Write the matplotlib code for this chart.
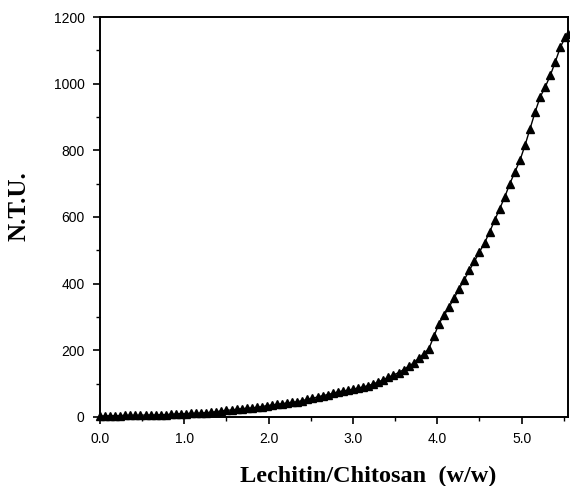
import matplotlib

matplotlib.use("Agg")
import matplotlib.pyplot as plt
from matplotlib.ticker import MultipleLocator

# Lechitin/Chitosan ratio (w/w) and turbidity (N.T.U.)
RATIO = [
    0.00, 0.06, 0.12, 0.18, 0.24, 0.30, 0.36, 0.42, 0.48, 0.54,
    0.60, 0.66, 0.72, 0.78, 0.84, 0.90, 0.96, 1.02, 1.08, 1.14,
    1.20, 1.26, 1.32, 1.38, 1.44, 1.50, 1.56, 1.62, 1.68, 1.74,
    1.80, 1.86, 1.92, 1.98, 2.04, 2.10, 2.16, 2.22, 2.28, 2.34,
    2.40, 2.46, 2.52, 2.58, 2.64, 2.70, 2.76, 2.82, 2.88, 2.94,
    3.00, 3.06, 3.12, 3.18, 3.24, 3.30, 3.36, 3.42, 3.48, 3.54,
    3.60, 3.66, 3.72, 3.78, 3.84, 3.90, 3.96, 4.02, 4.08, 4.14,
    4.20, 4.26, 4.32, 4.38, 4.44, 4.50, 4.56, 4.62, 4.68, 4.74,
    4.80, 4.86, 4.92, 4.98, 5.04, 5.10, 5.16, 5.22, 5.28, 5.34,
    5.40, 5.46, 5.52, 5.55,
]
NTU = [
    3, 3, 4, 4, 4, 5, 5, 5, 5, 6,
    6, 6, 7, 7, 8, 9, 10, 10, 11, 11,
    12, 13, 14, 16, 18, 20, 21, 23, 25, 26,
    27, 29, 31, 34, 36, 38, 40, 42, 44, 46,
    49, 53, 56, 60, 64, 67, 71, 75, 78, 80,
    83, 87, 90, 94, 99, 105, 112, 119, 126, 133,
    142, 152, 162, 176, 190, 205, 242, 280, 305, 330,
    357, 385, 412, 440, 467, 495, 522, 555, 590, 625,
    660, 700, 735, 770, 815, 865, 915, 960, 990, 1025,
    1066, 1110, 1140, 1150,
]
X_TICKS = [0.0, 1.0, 2.0, 3.0, 4.0, 5.0]
Y_TICKS = [0, 200, 400, 600, 800, 1000, 1200]

fig = plt.figure(figsize=(5.7, 4.86), dpi=100)
ax = fig.add_axes([0.1754, 0.142, 0.8211, 0.823])

ax.plot(RATIO, NTU, "-", color="black", lw=1.0, marker="^", ms=5.5,
        markerfacecolor="black", markeredgecolor="black", clip_on=False,
        zorder=3)

ax.set_xlim(0, 5.55)
ax.set_ylim(0, 1200)
ax.set_xticks(X_TICKS)
ax.set_xticklabels(["%.1f" % v for v in X_TICKS])
ax.set_yticks(Y_TICKS)
ax.xaxis.set_minor_locator(MultipleLocator(0.5))
ax.yaxis.set_minor_locator(MultipleLocator(100))
ax.tick_params(which="major", direction="out", length=5, width=1.2,
               labelsize=10, pad=6)
ax.tick_params(which="minor", direction="out", length=3, width=1.0)
for label in ax.get_xticklabels() + ax.get_yticklabels():
    label.set_family("Liberation Sans")
for spine in ax.spines.values():
    spine.set_linewidth(1.4)

fig.text(0.033, 0.576, "N.T.U.", rotation=90, ha="center", va="center",
         family="Liberation Serif", weight="bold", fontsize=18)
fig.text(0.421, 0.008, "Lechitin/Chitosan  (w/w)", ha="left",
         va="baseline", family="Liberation Serif", weight="bold",
         fontsize=17.5)

fig.savefig("out.png", dpi=100, facecolor="white")
